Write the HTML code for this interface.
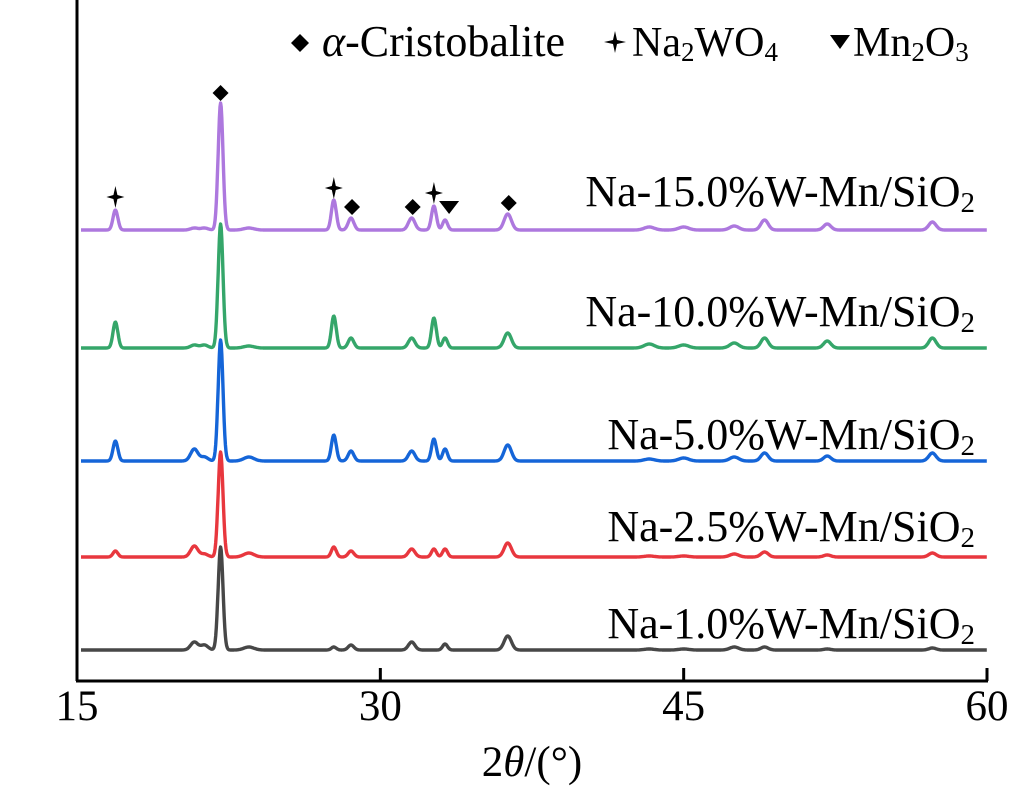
<!DOCTYPE html>
<html><head><meta charset="utf-8"><style>
body{margin:0;background:#fff;}
svg{display:block;font-family:"Liberation Serif",serif;}
</style></head><body>
<svg id="chart" width="1019" height="787">
<g id="traces"></g>
<g id="axes">
<line x1="77" y1="0" x2="77" y2="681" stroke="#000" stroke-width="3"/>
<line x1="76" y1="681" x2="988" y2="681" stroke="#000" stroke-width="3"/>
</g>
<g id="ticks"></g>
<text x="532" y="776" font-size="43" text-anchor="middle">2<tspan font-style="italic">θ</tspan>/(°)</text>
<g id="markers"></g>
<g>
<path d="M300,34 l9,9 l-9,9 l-9,-9z" fill="#000"/>
<text x="322" y="56" font-size="44"><tspan font-style="italic">α</tspan>-Cristobalite</text>
<path d="M615,31 L617,40 L626,42 L617,44 L615,53 L613,44 L604,42 L613,40Z" fill="#000"/>
<text x="632" y="56" font-size="42">Na<tspan font-size="27" dy="5">2</tspan><tspan dy="-5">WO</tspan><tspan font-size="27" dy="5">4</tspan></text>
<path d="M830,35 h20 l-10,14z" fill="#000"/>
<text x="853" y="56" font-size="42">Mn<tspan font-size="27" dy="5">2</tspan><tspan dy="-5">O</tspan><tspan font-size="27" dy="5">3</tspan></text>
</g>
<g id="labels"></g>
</svg>
<script>
const xTicks=[15,30,45,60];
const seriesNames=["Na-1.0%W-Mn/SiO","Na-2.5%W-Mn/SiO","Na-5.0%W-Mn/SiO","Na-10.0%W-Mn/SiO","Na-15.0%W-Mn/SiO"];
const seriesColors=["#474747","#e8373e","#1565d8","#35a66a","#ad78de"];
const baselines=[650,557,461,348,230];
const peakPos=[16.9,20.8,21.3,22.1,23.5,27.7,28.55,31.55,32.65,33.2,36.3,43.3,45.0,47.5,49.0,52.1,57.3];
const peakWidth=[0.12,0.18,0.18,0.12,0.25,0.12,0.14,0.16,0.12,0.12,0.18,0.25,0.25,0.22,0.18,0.18,0.18];
const int1=[0,8,5,103,3,3,5,8,0,6,14,1,1,3,3,1,2];
const int2=[6,11,3,105,4,10,6,8,8,8,14,1,1,3,5,2,4];
const int3=[20,12,4,121,4,26,10,10,22,12,16,2,3,4,8,5,8];
const int4=[26,3,3,124,2,32,10,10,30,10,15,4,3,5,10,7,10];
const int5=[20,2,2,127,2,30,12,12,24,10,16,3,3,4,10,6,8];
const intensities=[int1,int2,int3,int4,int5];
const markerDiamonds=[[22.1,93],[28.6,207],[31.6,207],[36.35,203]];
const markerStars=[[16.9,197],[27.7,188],[32.65,193]];
const markerTriangles=[[33.4,207]];
const NS="http://www.w3.org/2000/svg";
const xS=v=>77+(v-15)*(910/45);
function el(t,a,p){const e=document.createElementNS(NS,t);for(const k in a)e.setAttribute(k,a[k]);p.appendChild(e);return e;}
const tk=document.getElementById('ticks');
xTicks.forEach(t=>{
 const l=el('line',{x1:xS(t),x2:xS(t),y1:681,y2:668,stroke:'#000','stroke-width':3},tk);
 
 
 const tx=el('text',{x:xS(t),y:720,'font-size':43,'text-anchor':'middle'},tk);
 tx.textContent=t;
 
 
});
const tr=document.getElementById('traces');
intensities.forEach((ints,si)=>{
 let d='';
 for(let x=15.2;x<=60;x+=0.03){
  let y=0;
  peakPos.forEach((p,i)=>{const w=peakWidth[i];y+=ints[i]*Math.exp(-0.5*((x-p)/w)**2);});
  d+=(d?'L':'M')+xS(x).toFixed(1)+','+(baselines[si]-y).toFixed(1);
 }
 const p=el('path',{d:d,fill:'none',stroke:seriesColors[si],'stroke-width':3.4,'stroke-linejoin':'round'},tr);
 
 
});
const lb=document.getElementById('labels');
const labelY=[638,541,449,326,206];
seriesNames.forEach((n,i)=>{
 const t=el('text',{x:975,y:labelY[i],'font-size':44,'text-anchor':'end'},lb);
 t.innerHTML=n+'<tspan font-size="29" dy="6">2</tspan>';
 
 
});
const mk=document.getElementById('markers');
markerDiamonds.forEach(([x,y])=>{
 const m=el('path',{d:`M${xS(x)},${y-8} l8,8 l-8,8 l-8,-8z`,fill:'#000'},mk);
 
 
});
markerStars.forEach(([x,y])=>{
 const c=xS(x);
 const m=el('path',{d:`M${c},${y-11} L${c+2},${y-2} L${c+9},${y} L${c+2},${y+2} L${c},${y+11} L${c-2},${y+2} L${c-9},${y} L${c-2},${y-2}Z`,fill:'#000'},mk);
 
 
});
markerTriangles.forEach(([x,y])=>{
 const c=xS(x);
 const m=el('path',{d:`M${c-10},${y-6} h20 l-10,13z`,fill:'#000'},mk);
 
 
});
</script>
</body></html>
